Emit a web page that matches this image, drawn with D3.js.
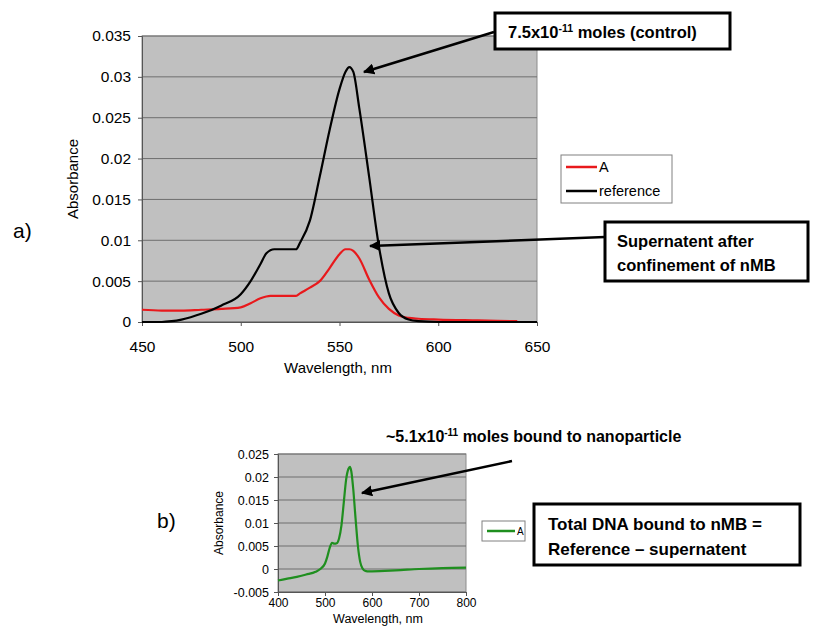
<!DOCTYPE html>
<html><head><meta charset="utf-8">
<script src="https://cdn.jsdelivr.net/npm/d3@7/dist/d3.min.js"></script>
<style>body{margin:0;background:#fff}svg{display:block;font-family:"Liberation Sans",Arial,sans-serif}</style>
</head><body><svg id="c" width="817" height="626"></svg>
<script>
// ---- data ----
const wlTop = [450,460,465,470,480,490,500,505,510,513,517,520,525,528,530,535,540,545,550,553,555,557,560,565,570,575,580,585,590,600,620,640,650];
const reference = [0,0,0.0001,0.0003,0.001,0.002,0.0034,0.005,0.0071,0.0084,0.0089,0.0089,0.0089,0.0089,0.0097,0.0124,0.0178,0.0235,0.0285,0.0306,0.0312,0.0306,0.0262,0.0178,0.0092,0.0035,0.0011,0.0003,0.0001,0,0,0,0];
const wlA = [450,460,470,480,490,500,505,510,515,520,525,528,530,535,540,545,550,553,555,557,560,565,570,575,580,585,590,600,620,640];
const seriesA = [0.0015,0.0014,0.0014,0.0015,0.0016,0.0018,0.0023,0.0029,0.0032,0.0032,0.0032,0.0032,0.0035,0.0042,0.005,0.0066,0.0083,0.0089,0.0089,0.0087,0.0078,0.0052,0.003,0.0016,0.0008,0.0005,0.0004,0.0003,0.0002,0.0001];
const wlB = [400,420,440,460,480,490,500,505,510,515,520,525,530,535,540,545,550,553,556,560,565,570,575,580,585,590,600,650,700,750,800];
const seriesB = [-0.0025,-0.0021,-0.0017,-0.0012,-0.0006,0,0.0012,0.0027,0.0046,0.0057,0.0055,0.0056,0.0067,0.0095,0.0145,0.0195,0.0218,0.0222,0.0212,0.0175,0.011,0.005,0.0015,0.0001,-0.0004,-0.0005,-0.0005,-0.0003,0,0.0002,0.0003];
const topXTicks = [450,500,550,600,650];
const topYTicks = [0,0.005,0.01,0.015,0.02,0.025,0.03,0.035];
const botXTicks = [400,500,600,700,800];
const botYTicks = [-0.005,0,0.005,0.01,0.015,0.02,0.025];

const svg = d3.select("#c");
const defs = svg.append("defs");
defs.append("marker").attr("id","ah").attr("viewBox","0 0 10 10").attr("refX",9).attr("refY",5)
  .attr("markerWidth",4.5).attr("markerHeight",4.5).attr("orient","auto")
  .append("path").attr("d","M0,0 L10,5 L0,10 z").attr("fill","#000");

function panel(o){
  const x = d3.scaleLinear().domain(o.xd).range([o.l,o.r]);
  const y = d3.scaleLinear().domain(o.yd).range([o.b,o.t]);
  const g = svg.append("g");
  g.append("rect").attr("x",o.l).attr("y",o.t).attr("width",o.r-o.l).attr("height",o.b-o.t)
    .attr("fill","#c0c0c0").attr("stroke","#8c8c8c").attr("stroke-width",1);
  o.yt.forEach(v=>{
    g.append("line").attr("x1",o.l).attr("x2",o.r).attr("y1",y(v)).attr("y2",y(v))
      .attr("stroke","#6e6e6e").attr("stroke-width",1);
  });
  const ya = g.append("g").attr("transform",`translate(${o.l},0)`)
    .call(d3.axisLeft(y).tickValues(o.yt).tickSize(4).tickFormat(d=>String(+d.toFixed(4))));
  const xa = g.append("g").attr("transform",`translate(0,${o.b})`)
    .call(d3.axisBottom(x).tickValues(o.xt).tickSize(4).tickFormat(d=>d));
  [ya,xa].forEach(a=>{a.select(".domain").attr("stroke","#555");a.selectAll("line").attr("stroke","#555");
    a.selectAll("text").attr("font-size",o.fs).attr("fill","#000").attr("font-family","Liberation Sans, Arial, sans-serif");});
  xa.selectAll("text").attr("dy",null).attr("y",o.xly).attr("font-size",o.xfs||o.fs);
  ya.selectAll("text").attr("dx",o.ydx);
  o.series.forEach(s=>{
    g.append("path").datum(s.x.map((v,i)=>[v,s.y[i]]))
      .attr("d",d3.line().x(d=>x(d[0])).y(d=>y(d[1])).curve(d3.curveMonotoneX))
      .attr("fill","none").attr("stroke",s.c).attr("stroke-width",o.sw);
  });
  return {x,y};
}

panel({l:142,r:537,t:36,b:322,xd:[450,650],yd:[0,0.035],xt:topXTicks,yt:topYTicks,fs:15.5,sw:2.2,xly:30,ydx:"-4",
  series:[{x:wlA,y:seriesA,c:"#e8191c"},{x:wlTop,y:reference,c:"#000"}]});
panel({l:278,r:466,t:454,b:592,xd:[400,800],yd:[-0.005,0.025],xt:botXTicks,yt:botYTicks,fs:12.5,xfs:12,sw:2.2,xly:14.5,ydx:"-2",
  series:[{x:wlB,y:seriesB,c:"#1f8f1f"}]});

// axis titles
svg.append("text").attr("x",338).attr("y",373).attr("text-anchor","middle").attr("font-size",15).text("Wavelength, nm");
svg.append("text").attr("transform","translate(78,179) rotate(-90)").attr("text-anchor","middle").attr("font-size",15).text("Absorbance");
svg.append("text").attr("x",378).attr("y",622.5).attr("text-anchor","middle").attr("font-size",12.5).text("Wavelength, nm");
svg.append("text").attr("transform","translate(223,523) rotate(-90)").attr("text-anchor","middle").attr("font-size",12).text("Absorbance");

// panel labels
svg.append("text").attr("x",13).attr("y",238).attr("font-size",21).text("a)");
svg.append("text").attr("x",157).attr("y",528).attr("font-size",21).text("b)");

// legends
function legend(x0,y0,w,h,items,fs,ll){
  svg.append("rect").attr("x",x0).attr("y",y0).attr("width",w).attr("height",h).attr("fill","#fff").attr("stroke","#808080");
  items.forEach((it,i)=>{
    const yy = y0 + h/(items.length*2)*(2*i+1);
    svg.append("line").attr("x1",x0+5).attr("x2",x0+5+ll).attr("y1",yy).attr("y2",yy).attr("stroke",it.c).attr("stroke-width",2.5);
    svg.append("text").attr("x",x0+7+ll).attr("y",yy+fs*0.36).attr("font-size",fs).text(it.t);
  });
}
legend(561,155,111,48,[{t:"A",c:"#e8191c"},{t:"reference",c:"#000"}],14.5,31);
legend(482,521,43,20,[{t:"A",c:"#1f8f1f"}],10,28);

// annotation boxes
function box(x0,y0,w,h){svg.append("rect").attr("x",x0).attr("y",y0).attr("width",w).attr("height",h).attr("fill","#fff").attr("stroke","#000").attr("stroke-width",3);}
function arrow(x1,y1,x2,y2){svg.append("line").attr("x1",x1).attr("y1",y1).attr("x2",x2).attr("y2",y2).attr("stroke","#000").attr("stroke-width",2.5).attr("marker-end","url(#ah)");}

arrow(494,32,364,72);
box(495,13,235,36);
const t1 = svg.append("text").attr("x",508).attr("y",38).attr("font-size",16.5).attr("font-weight","bold");
t1.append("tspan").text("7.5x10");
t1.append("tspan").attr("font-size",10.5).attr("dy",-6).text("-11");
t1.append("tspan").attr("dy",6).text(" moles (control)");

arrow(605,237,370,246);
box(605,222,203,59);
svg.append("text").attr("x",617).attr("y",247).attr("font-size",16.5).attr("font-weight","bold").text("Supernatent after");
svg.append("text").attr("x",617).attr("y",271).attr("font-size",16.5).attr("font-weight","bold").text("confinement of nMB");

const t2 = svg.append("text").attr("x",386).attr("y",442).attr("font-size",16).attr("font-weight","bold");
t2.append("tspan").text("~5.1x10");
t2.append("tspan").attr("font-size",10).attr("dy",-6).text("-11");
t2.append("tspan").attr("dy",6).text(" moles bound to nanoparticle");
arrow(512,461,362,493);

box(534,504,266,61);
svg.append("text").attr("x",548).attr("y",530).attr("font-size",17).attr("font-weight","bold").text("Total DNA bound to nMB =");
svg.append("text").attr("x",548).attr("y",555).attr("font-size",17).attr("font-weight","bold").text("Reference \u2013 supernatent");
</script></body></html>
